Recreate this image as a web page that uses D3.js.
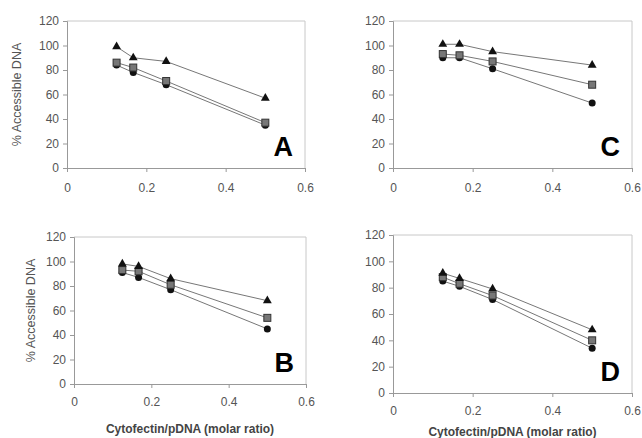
<!DOCTYPE html>
<html>
<head>
<meta charset="utf-8">
<script src="https://cdn.jsdelivr.net/npm/d3@7"></script>
<style>
  body { margin: 0; background: #fff; }
  text { font-family: "Liberation Sans", Arial, sans-serif; }
</style>
</head>
<body>
<script>
// molar ratios (same for every panel)
var ratios = [0.125, 0.167, 0.25, 0.5];
var xTicks = [0, 0.2, 0.4, 0.6];
var yTicks = [0, 20, 40, 60, 80, 100, 120];

// % accessible DNA
var triA = [99, 90, 87, 57],  sqA = [86, 82, 71, 37], cirA = [84, 78, 68, 35];
var triB = [98, 96, 86, 68],  sqB = [93, 92, 81, 54], cirB = [91, 87, 77, 45];
var triC = [101, 101, 95, 84], sqC = [93, 92, 87, 68], cirC = [90, 90, 81, 53];
var triD = [91, 87, 79, 48],  sqD = [88, 83, 74, 40], cirD = [85, 81, 71, 34];

var width = 642, height = 438;

var svg = d3.select("body").append("svg")
    .attr("width", width)
    .attr("height", height);

var panels = [
  {name: "A", left: 67,  top: 21,  w: 238, h: 147, pad: 11, tri: triA, sq: sqA, cir: cirA, ytitle: 17, xtitle: null},
  {name: "C", left: 393, top: 21,  w: 239, h: 147, pad: 11, tri: triC, sq: sqC, cir: cirC, ytitle: null, xtitle: null},
  {name: "B", left: 74,  top: 237, w: 232, h: 147, pad: 9,  tri: triB, sq: sqB, cir: cirB, ytitle: 31, xtitle: 49},
  {name: "D", left: 393, top: 235, w: 239, h: 158, pad: 9,  tri: triD, sq: sqD, cir: cirD, ytitle: null, xtitle: 43}
];

panels.forEach(function(p) {
  var g = svg.append("g")
      .attr("transform", "translate(" + p.left + "," + p.top + ")");

  var x = d3.scaleLinear().domain([0, 0.6]).range([0, p.w]);
  var y = d3.scaleLinear().domain([0, 120]).range([p.h, 0]);

  // frame (top/right lighter)
  g.append("path")
      .attr("d", "M0,0H" + p.w + "V" + p.h)
      .attr("fill", "none")
      .attr("stroke", "#c8c8c8");

  var yAxis = g.append("g")
      .call(d3.axisLeft(y).tickValues(yTicks).tickSize(4).tickPadding(4));
  var xAxis = g.append("g")
      .attr("transform", "translate(0," + p.h + ")")
      .call(d3.axisBottom(x).tickValues(xTicks).tickSize(4).tickPadding(p.pad)
        .tickFormat(function(d) { return d === 0 ? "0" : d3.format(".1f")(d); }));

  [xAxis, yAxis].forEach(function(a) {
    a.select(".domain").attr("stroke", "#999");
    a.selectAll(".tick line").attr("stroke", "#999");
    a.selectAll(".tick text")
        .attr("fill", "#555")
        .style("font-size", "12px")
        .style("font-family", "'Liberation Sans', Arial, sans-serif");
  });

  var line = d3.line()
      .x(function(d, i) { return x(ratios[i]); })
      .y(function(d) { return y(d); });

  [p.cir, p.sq, p.tri].forEach(function(s) {
    g.append("path")
        .attr("d", line(s))
        .attr("fill", "none")
        .attr("stroke", "#777")
        .attr("stroke-width", 1);
  });

  // circles
  g.selectAll(".cir").data(p.cir).enter().append("circle")
      .attr("cx", function(d, i) { return x(ratios[i]); })
      .attr("cy", function(d) { return y(d); })
      .attr("r", 3.5)
      .attr("fill", "#111");

  // squares
  g.selectAll(".sq").data(p.sq).enter().append("rect")
      .attr("x", function(d, i) { return x(ratios[i]) - 3.5; })
      .attr("y", function(d) { return y(d) - 3.5; })
      .attr("width", 7)
      .attr("height", 7)
      .attr("fill", "#777")
      .attr("stroke", "#333")
      .attr("stroke-width", 1);

  // triangles
  g.selectAll(".tri").data(p.tri).enter().append("path")
      .attr("transform", function(d, i) { return "translate(" + x(ratios[i]) + "," + y(d) + ")"; })
      .attr("d", d3.symbol().type(d3.symbolTriangle).size(34))
      .attr("fill", "#111");

  // panel letter
  g.append("text")
      .attr("x", p.w - 12)
      .attr("y", p.h - 12)
      .attr("text-anchor", "end")
      .attr("fill", "#000")
      .style("font-size", "27px")
      .style("font-weight", "bold")
      .text(p.name);

  if (p.ytitle !== null) {
    svg.append("text")
        .attr("transform", "translate(" + p.ytitle + "," + (p.top + p.h / 2) + ") rotate(-90)")
        .attr("text-anchor", "middle")
        .attr("dy", "0.35em")
        .attr("fill", "#555")
        .style("font-size", "12.5px")
        .text("% Accessible DNA");
  }

  if (p.xtitle !== null) {
    g.append("text")
        .attr("x", p.w / 2)
        .attr("y", p.h + p.xtitle)
        .attr("text-anchor", "middle")
        .attr("fill", "#444")
        .style("font-size", "12px")
        .style("font-weight", "bold")
        .text("Cytofectin/pDNA (molar ratio)");
  }
});
</script>
</body>
</html>
